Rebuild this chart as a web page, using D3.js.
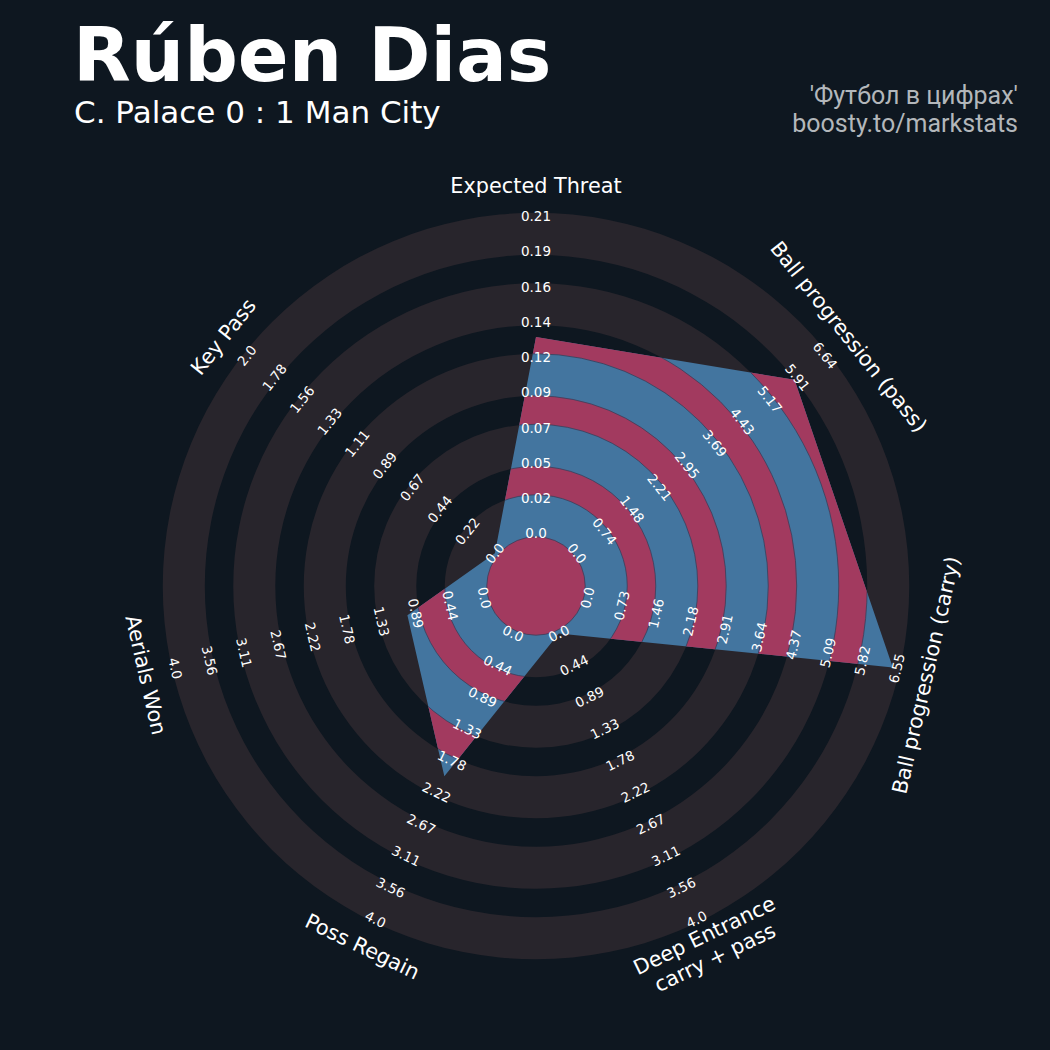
<!DOCTYPE html>
<html><head><meta charset="utf-8">
<script src="https://cdn.jsdelivr.net/npm/d3@7"></script>
<style>html,body{margin:0;padding:0;background:#0e1720;} svg{display:block}</style>
</head><body>
<svg id="chart" width="1050" height="1050"></svg>
<script>
// ---------------- data ----------------
const params = ["Expected Threat", "Ball progression (pass)", "Ball progression (carry)",
  "Deep Entrance\ncarry + pass", "Poss Regain", "Aerials Won", "Key Pass"];
const minRange = [0, 0, 0, 0, 0, 0, 0];
const maxRange = [0.21, 6.64, 6.55, 4.0, 4.0, 4.0, 2.0];
const values = [0.13, 5.82, 6.47, 0, 2.0, 1.0, 0];
const ticksET = ["0.0","0.02","0.05","0.07","0.09","0.12","0.14","0.16","0.19","0.21"];
const ticksPass = ["0.0","0.74","1.48","2.21","2.95","3.69","4.43","5.17","5.91","6.64"];
const ticksCarry = ["0.0","0.73","1.46","2.18","2.91","3.64","4.37","5.09","5.82","6.55"];
const ticksDeep = ["0.0","0.44","0.89","1.33","1.78","2.22","2.67","3.11","3.56","4.0"];
const ticksRegain = ["0.0","0.44","0.89","1.33","1.78","2.22","2.67","3.11","3.56","4.0"];
const ticksAerial = ["0.0","0.44","0.89","1.33","1.78","2.22","2.67","3.11","3.56","4.0"];
const ticksKey = ["0.0","0.22","0.44","0.67","0.89","1.11","1.33","1.56","1.78","2.0"];
const tickLabels = [ticksET, ticksPass, ticksCarry, ticksDeep, ticksRegain, ticksAerial, ticksKey];
const title = "Rúben Dias";
const subtitle = "C. Palace 0 : 1 Man City";
const credits = ["'Футбол в цифрах'", "boosty.to/markstats"];

// ---------------- layout ----------------
const W = 1050, H = 1050;
const cx = 536, cy = 586;
const c0 = 52.6, ringW = 35.25, nRings = 9, edge = 3.4;
const rMax = c0 + nRings * ringW;
const col = {bg: "#0e1720", ring: "#28252c", blue: "#43759f", pink: "#a23a5f", text: "#ffffff", credit: "#b3b7bb"};

const svg = d3.select("#chart");
svg.append("rect").attr("width", W).attr("height", H).attr("fill", col.bg);

const n = params.length;
const angle = d3.scaleLinear().domain([0, n]).range([90, 90 - 360]); // degrees, math convention
const rad = d => d * Math.PI / 180;
const idxR = d3.scaleLinear().domain([0, nRings]).range([c0, rMax]);
const valR = params.map((p, i) => d3.scaleLinear().domain([minRange[i], maxRange[i]]).range([c0, rMax]));
const pt = (i, r) => [cx + r * Math.cos(rad(angle(i))), cy - r * Math.sin(rad(angle(i)))];
const rotFor = i => { let a = 90 - angle(i); while (a > 90) a -= 180; while (a < -90) a += 180; return a; };

const g = svg.append("g");
const arc = d3.arc().startAngle(0).endAngle(2 * Math.PI);

// background rings
for (let j = 0; j < 5; j++) {
  g.append("path")
    .attr("transform", `translate(${cx},${cy})`)
    .attr("d", arc({innerRadius: idxR(2 * j) - edge, outerRadius: idxR(2 * j + 1) + edge}))
    .attr("fill", col.ring);
}

// radar polygon
const verts = values.map((v, i) => pt(i, valR[i](v)));
const line = d3.line().curve(d3.curveLinearClosed);
svg.append("clipPath").attr("id", "radarClip").append("path").attr("d", line(verts));
g.append("path").attr("d", line(verts)).attr("fill", col.blue);

const inner = g.append("g").attr("clip-path", "url(#radarClip)");
inner.append("circle").attr("cx", cx).attr("cy", cy).attr("r", idxR(0) - edge)
  .attr("fill", col.pink).attr("stroke", "#3a3f5a").attr("stroke-width", 0.8);
for (let j = 0; j < 4; j++) {
  inner.append("path")
    .attr("transform", `translate(${cx},${cy})`)
    .attr("d", arc({innerRadius: idxR(2 * j + 1) + edge, outerRadius: idxR(2 * j + 2) - edge}))
    .attr("fill", col.pink).attr("stroke", "#3a3f5a").attr("stroke-width", 0.8);
}

// range labels
tickLabels.forEach((ticks, i) => {
  ticks.forEach((t, k) => {
    const [x, y] = pt(i, idxR(k));
    g.append("text")
      .attr("transform", `translate(${x},${y}) rotate(${rotFor(i)})`)
      .attr("text-anchor", "middle").attr("dominant-baseline", "central")
      .attr("font-family", "DejaVu Sans").attr("font-size", 13.5)
      .attr("fill", col.text).text(t);
  });
});

// param labels
params.forEach((p, i) => {
  const [x, y] = pt(i, 400);
  const lines = p.split("\n");
  const t = g.append("text")
    .attr("transform", `translate(${x},${y}) rotate(${rotFor(i)})`)
    .attr("text-anchor", "middle")
    .attr("font-family", "DejaVu Sans").attr("font-size", 20.8)
    .attr("fill", col.text);
  const lh = 24.5;
  lines.forEach((l, k) => {
    t.append("tspan").attr("x", 0)
      .attr("y", (k - (lines.length - 1) / 2) * lh)
      .attr("dy", "0.35em").text(l);
  });
});

// titles
svg.append("text").attr("x", 73).attr("y", 81)
  .attr("font-family", "DejaVu Sans").attr("font-weight", "bold").attr("font-size", 75)
  .attr("fill", col.text).text(title);
svg.append("text").attr("x", 74).attr("y", 123)
  .attr("font-family", "DejaVu Sans").attr("font-size", 31)
  .attr("fill", col.text).text(subtitle);
credits.forEach((s, k) => {
  svg.append("text").attr("x", 1018).attr("y", 104 + k * 28)
    .attr("text-anchor", "end")
    .attr("font-family", "Roboto").attr("font-size", 25)
    .attr("fill", col.credit).text(s);
});
</script>
</body></html>
